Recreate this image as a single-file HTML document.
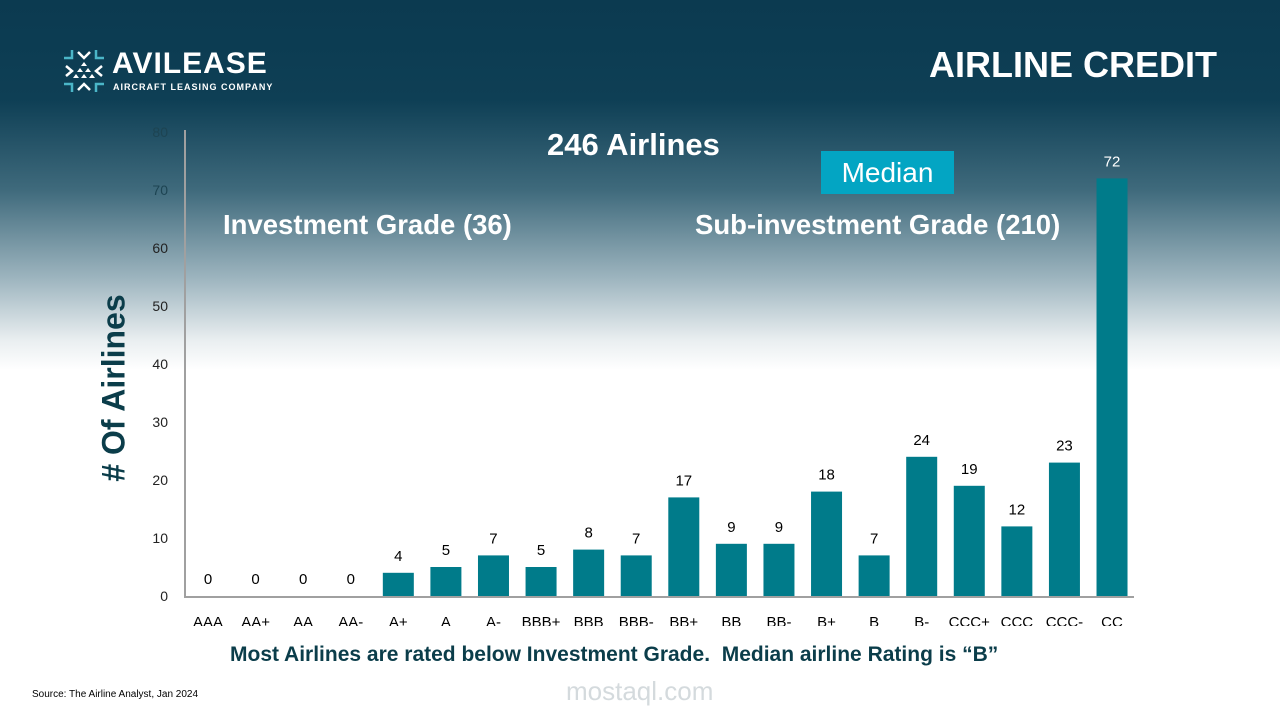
<!DOCTYPE html>
<html><head><meta charset="utf-8"><style>
body{margin:0;width:1280px;height:720px;overflow:hidden;font-family:"Liberation Sans",sans-serif;}
#bg{position:absolute;left:0;top:0;width:1280px;height:720px;background:linear-gradient(180deg,#0b3a50 0px,#0e3f55 100px,#3f6a7c 190px,#9fb6c0 280px,#e9eef0 340px,#fff 370px,#fff 720px);}
.t{position:absolute;white-space:nowrap;}
</style></head><body>
<div id="bg"></div>
<div class="t" style="left:62px;top:48px;">
<svg width="44" height="46" viewBox="0 0 44 46">
<g stroke="#4bb6c8" stroke-width="2.5" fill="none"><path d="M2 10h8V2M42 10h-8V2M2 36h8v8M42 36h-8v8"/></g>
<g stroke="#fff" stroke-width="2.5" fill="none"><path d="M16 4l6 6 6-6M16 42l6-6 6 6M4 18l6 5-6 5M40 18l-6 5 6 5"/></g>
<g fill="#fff"><path d="M22 14l3 4h-6zM18 20l3 4h-6zM26 20l3 4h-6zM14 26l3 4h-6zM22 26l3 4h-6zM30 26l3 4h-6z"/></g>
</svg></div>
<div class="t" style="left:112px;top:47px;color:#fff;font-weight:bold;font-size:30px;letter-spacing:1px;">AVILEASE</div>
<div class="t" style="left:113px;top:82px;color:#fff;font-weight:bold;font-size:9px;letter-spacing:1px;">AIRCRAFT LEASING COMPANY</div>
<div class="t" style="right:63px;top:44px;color:#fff;font-weight:bold;font-size:36px;">AIRLINE CREDIT</div>
<div class="t" style="left:547px;top:127px;color:#fff;font-weight:bold;font-size:31px;">246 Airlines</div>
<div class="t" style="left:821px;top:151px;width:133px;height:43px;background:#03a5c3;color:#fff;font-size:28px;text-align:center;line-height:43px;">Median</div>
<div class="t" style="left:223px;top:209px;color:#fff;font-weight:bold;font-size:27.5px;">Investment Grade (36)</div>
<div class="t" style="left:695px;top:209px;color:#fff;font-weight:bold;font-size:27.5px;">Sub-investment Grade (210)</div>
<div class="t" style="left:114px;top:388px;transform:translate(-50%,-50%) rotate(-90deg);color:#0b3d4a;font-weight:bold;font-size:32px;">#&nbsp;Of Airlines</div>
<svg id="chart" width="1280" height="720" style="position:absolute;left:0;top:0"></svg>
<div class="t" style="left:230px;top:643px;color:#0b3d4a;font-weight:bold;font-size:21px;">Most Airlines are rated below Investment Grade.&nbsp; Median airline Rating is “B”</div>
<div class="t" style="left:32px;top:689px;color:#000;font-size:10px;">Source: The Airline Analyst, Jan 2024</div>
<div class="t" style="left:566px;top:676px;color:#d4dadd;font-size:26px;">mostaql.com</div>
<script>
const categories=["AAA","AA+","AA","AA-","A+","A","A-","BBB+","BBB","BBB-","BB+","BB","BB-","B+","B","B-","CCC+","CCC","CCC-","CC"];
const values=[0,0,0,0,4,5,7,5,8,7,17,9,9,18,7,24,19,12,23,72];
const yTicks=[0,10,20,30,40,50,60,70,80];
const NS="http://www.w3.org/2000/svg";
const svg=document.getElementById('chart');
const y0=596,y1=132,yMax=80,xStart=208,step=47.58,bw=31;
const yS=v=>y0-(v/yMax)*(y0-y1);
const xS=i=>xStart+i*step;
function mk(t,a){const e=document.createElementNS(NS,t);for(const k in a)e.setAttribute(k,a[k]);svg.appendChild(e);return e;}
yTicks.forEach(v=>{
 const t=mk('text',{x:168,y:yS(v)+5,'text-anchor':'end','font-size':14,fill:v>=70?'#1d4452':'#222','font-family':'Liberation Sans'});
 
 
 t.textContent=v;
});
const ax=mk('line',{x1:185,y1:130,x2:185,y2:598,stroke:'#a0a0a0','stroke-width':2});


const xa=mk('line',{x1:184,y1:597,x2:1134,y2:597,stroke:'#a0a0a0','stroke-width':2});


const cp=mk('clipPath',{id:'clip'});
const cr=document.createElementNS(NS,'rect');cr.setAttribute('x',0);cr.setAttribute('y',600);cr.setAttribute('width',1280);cr.setAttribute('height',26);cp.appendChild(cr);
categories.forEach((c,i)=>{
 const v=values[i],cx=xS(i);
 if(v>0){const r=mk('rect',{x:cx-bw/2,y:yS(v),width:bw,height:y0-yS(v),fill:'#007b8a'});
 
 }
 const l=mk('text',{x:cx,y:yS(v)-12,'text-anchor':'middle','font-size':15,fill:v>60?'#fff':'#000','font-family':'Liberation Sans'});
 
 
 l.textContent=v;
 const xl=mk('text',{x:cx,y:627,'text-anchor':'middle','font-size':15,fill:'#000','font-family':'Liberation Sans','clip-path':'url(#clip)'});
 
 
 xl.textContent=c;
});
</script>
</body></html>
